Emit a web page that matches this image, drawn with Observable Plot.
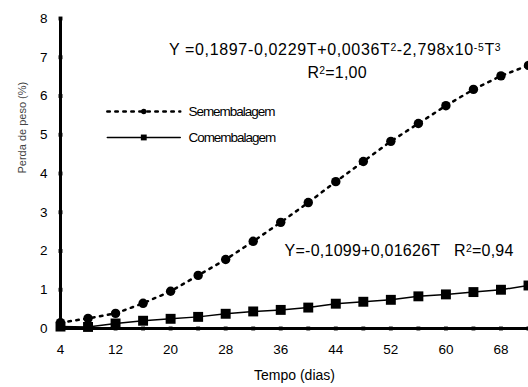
<!DOCTYPE html>
<html><head><meta charset="utf-8">
<script src="https://cdn.jsdelivr.net/npm/d3@7"></script>
<script src="https://cdn.jsdelivr.net/npm/@observablehq/plot@0.6"></script>
<style>
body{margin:0;background:#fff;}
#chart svg{font-family:"Liberation Sans",Arial,sans-serif;}
</style></head>
<body><div id="chart"></div>
<script>
const days = [4,8,12,16,20,24,28,32,36,40,44,48,52,56,60,64,68,72];
const semEmbalagem = [0.15,0.26,0.39,0.65,0.96,1.37,1.78,2.25,2.74,3.25,3.79,4.31,4.83,5.29,5.75,6.17,6.52,6.79];
const comEmbalagem = [0.05,0.04,0.13,0.2,0.25,0.3,0.38,0.44,0.48,0.54,0.64,0.69,0.74,0.83,0.88,0.94,1.0,1.11];
const seriesNames = ["Sem embalagem","Com embalagem"];
const xTickLabels = [4,12,20,28,36,44,52,60,68];
const xTickMarks = d3.range(4,73,4);
const yTicks = [0,1,2,3,4,5,6,7,8];
const eq1 = "Y =0,1897-0,0229T+0,0036T^{2}-2,798x10^{-5}T^{3}";
const eq1r = "R^{2}=1,00";
const eq2 = "Y=-0,1099+0,01626T   R^{2}=0,94";

const sem = days.map((d,i)=>({T:d, v:semEmbalagem[i]}));
const com = days.map((d,i)=>({T:d, v:comEmbalagem[i]}));

const plot = Plot.plot({
  width: 528, height: 387,
  marginLeft: 60, marginRight: 0, marginTop: 18, marginBottom: 59,
  style: {fontFamily: "Liberation Sans, Arial, sans-serif", fontSize: "13px", color: "#000", background: "#fff", overflow: "visible"},
  x: {domain: [4,72]},
  y: {domain: [0,8]},
  marks: [
    Plot.axisX(xTickLabels, {tickSize: 0, tickPadding: 16, fontSize: 13.5, label: null}),
    Plot.axisY(yTicks, {tickSize: 0, tickPadding: 13, fontSize: 13.5, label: null}),
    Plot.text(["Tempo (dias)"], {frameAnchor: "bottom", dy: 51, fontSize: 14}),
    Plot.text(["Perda de peso (%)"], {frameAnchor: "left", dx: -38, dy: 0, rotate: -90, fontSize: 11, fill: "#444"}),
    // series
    Plot.line(sem, {x: "T", y: "v", stroke: "#000", strokeWidth: 2.5, strokeDasharray: "2.5,5.5"}),
    Plot.line(com, {x: "T", y: "v", stroke: "#000", strokeWidth: 1.5}),
    Plot.dot(sem, {x: "T", y: "v", r: 4.7, fill: "#000"}),
    Plot.dot(com, {x: "T", y: "v", symbol: "square", r: 5.6, fill: "#000"}),
    // axes lines
    Plot.ruleY([0], {stroke: "#000", strokeWidth: 3}),
    Plot.ruleX([4], {stroke: "#000", strokeWidth: 3}),
    Plot.dot(yTicks, {x: 4, y: d=>d, symbol: "square", r: 2.2, fill: "#000"}),
    Plot.dot(xTickMarks, {x: d=>d, y: 0, symbol: "square", r: 2.2, fill: "#000"}),
    // legend
    Plot.line([{T:10.8,v:5.6},{T:21.4,v:5.6}], {x:"T", y:"v", stroke:"#000", strokeWidth:2.5, strokeDasharray:"2.5,5.5"}),
    Plot.dot([{T:16.1,v:5.6}], {x:"T", y:"v", r:2.7, fill:"#000"}),
    Plot.line([{T:10.8,v:4.93},{T:21.4,v:4.93}], {x:"T", y:"v", stroke:"#000", strokeWidth:1.5}),
    Plot.dot([{T:16.1,v:4.93}], {x:"T", y:"v", symbol:"square", r:3.3, fill:"#000"}),
    Plot.text([{T:22.6,v:5.6,s:seriesNames[0]},{T:22.6,v:4.93,s:seriesNames[1]}], {x:"T", y:"v", text:"s", textAnchor:"start", fontSize:13.5, className:"leg"}),
    // equations
    Plot.text([{T:43.9,v:7.18,s:eq1,ls:0.65},{T:44.2,v:6.6,s:eq1r,ls:0.2},{T:53.2,v:2.0,s:eq2,ls:0.25}], {x:"T", y:"v", text:"s", fontSize:16, className:"eq"})
  ]
});
const lsVals = [0.65, 0.2, 0.25];
// superscripts
d3.select(plot).selectAll(".eq text").each(function(_, i){
  const el = d3.select(this);
  const s = el.text();
  el.text("");
  el.attr("letter-spacing", lsVals[i] + "px");
  const parts = s.split(/(\^\{[^}]*\})/);
  parts.forEach(p=>{
    if(!p) return;
    if(p.startsWith("^{")){
      el.append("tspan").attr("baseline-shift","40%").attr("font-size","0.65em").text(p.slice(2,-1));
    } else el.append("tspan").text(p);
  });
});
d3.select(plot).selectAll(".leg text").attr("letter-spacing","-1px").attr("word-spacing","-3px");
document.getElementById("chart").appendChild(plot);
</script></body></html>
